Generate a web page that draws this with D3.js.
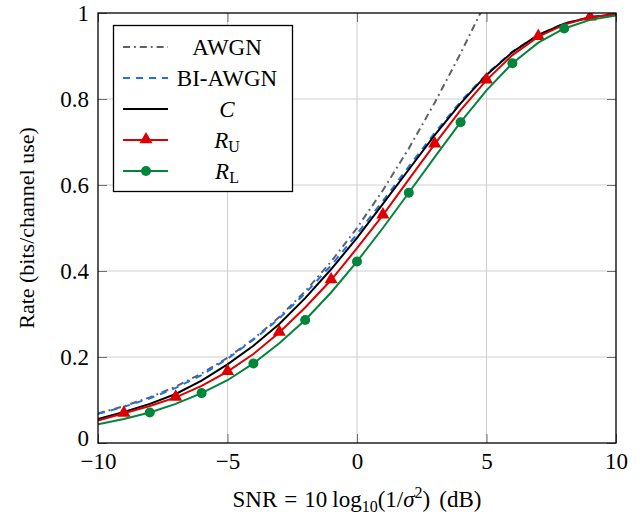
<!DOCTYPE html>
<html>
<head>
<meta charset="utf-8">
<script src="https://d3js.org/d3.v7.min.js"></script>
<style>
    body { margin: 0; background: #fff; }
    text { font-family: "Liberation Serif", "Times New Roman", serif; fill: #000; }
</style>
</head>
<body>
<div id="vis"></div>
<script>
// values, 1 dB steps
let snr = [-10, -9, -8, -7, -6, -5, -4, -3, -2, -1, 0, 1, 2, 3, 4, 5, 6, 7, 8, 9, 10];
let awgnSnr = [-10, -9, -8, -7, -6, -5, -4, -3, -2, -1, 0, 1, 2, 3, 4, 5];
let awgn = [0.0688, 0.0855, 0.1061, 0.1312, 0.1617, 0.1982, 0.2418, 0.2930, 0.3529, 0.4217,
            0.5, 0.5878, 0.6851, 0.7913, 0.9061, 1.0287];
let biawgn = [0.068, 0.084, 0.104, 0.128, 0.158, 0.196, 0.240, 0.290, 0.348, 0.413,
              0.486, 0.563, 0.643, 0.721, 0.794, 0.858, 0.910, 0.949, 0.976, 0.990, 0.997];
let capC = [0.056, 0.072, 0.091, 0.114, 0.145, 0.183, 0.226, 0.277, 0.337, 0.404,
            0.477, 0.556, 0.636, 0.716, 0.790, 0.856, 0.909, 0.949, 0.975, 0.990, 0.997];
let rU = [0.052, 0.069, 0.086, 0.106, 0.133, 0.166, 0.207, 0.257, 0.315, 0.379,
          0.453, 0.530, 0.613, 0.695, 0.774, 0.844, 0.902, 0.945, 0.973, 0.990, 0.997];
let rL = [0.0434, 0.056, 0.071, 0.091, 0.116, 0.146, 0.185, 0.232, 0.286, 0.350,
          0.422, 0.500, 0.582, 0.665, 0.746, 0.820, 0.883, 0.931, 0.964, 0.984, 0.994];
let xTicks = [-10, -5, 0, 5, 10];
let yTicks = [0, 0.2, 0.4, 0.6, 0.8, 1];
let legendLabels = ['AWGN', 'BI-AWGN', 'C', 'R_U', 'R_L'];

let W = 644, H = 521;
let margin = {top: 13, right: 28, bottom: 78, left: 98};
let width = W - margin.left - margin.right,
    height = H - margin.top - margin.bottom;

let colors = {awgn: '#5f5f68', bi: '#1a72e6', c: '#000', ru: '#dd0000', rl: '#00853a'};
let lw = 2;

let svg = d3.select('#vis').append('svg')
    .attr('width', W)
    .attr('height', H);

let xScale = d3.scaleLinear().domain([-10, 10]).range([margin.left, margin.left + width]);
let yScale = d3.scaleLinear().domain([0, 1]).range([margin.top + height, margin.top]);

// grid
let grid = svg.append('g').attr('stroke', '#d0d0d0').attr('stroke-width', 1.1);
grid.selectAll('line.gx')
    .data(xTicks.slice(1, -1))
    .enter().append('line')
    .attr('x1', d => xScale(d)).attr('x2', d => xScale(d))
    .attr('y1', yScale(0)).attr('y2', yScale(1));
grid.selectAll('line.gy')
    .data(yTicks.slice(1, -1))
    .enter().append('line')
    .attr('y1', d => yScale(d)).attr('y2', d => yScale(d))
    .attr('x1', xScale(-10)).attr('x2', xScale(10));

// axes, ticks pointing inward
let fmtY = d3.format('~g');
let axes = [
    [d3.axisBottom(xScale).tickValues(xTicks), 'translate(0,' + yScale(0) + ')', 10],
    [d3.axisTop(xScale).tickValues(xTicks).tickFormat(''), 'translate(0,' + yScale(1) + ')', 0],
    [d3.axisLeft(yScale).tickValues(yTicks).tickFormat(fmtY), 'translate(' + xScale(-10) + ',0)', 9],
    [d3.axisRight(yScale).tickValues(yTicks).tickFormat(''), 'translate(' + xScale(10) + ',0)', 0]
];
let axisGroups = axes.map(function(a) {
    let g = svg.append('g')
        .attr('transform', a[1])
        .call(a[0].tickSizeInner(-9).tickSizeOuter(0).tickPadding(a[2]));
    g.select('.domain').remove();
    g.selectAll('.tick line').attr('stroke', '#707070');
    g.selectAll('.tick text')
        .style('font-family', '"Liberation Serif", serif')
        .style('font-size', '23px');
    return g;
});
// lift the y "0" a little, like the reference
axisGroups[2].selectAll('.tick text').filter(d => d === 0).attr('dy', '0.1em');

// clip
svg.append('clipPath').attr('id', 'plotclip')
    .append('rect')
    .attr('x', margin.left).attr('y', margin.top)
    .attr('width', width).attr('height', height);

let plot = svg.append('g').attr('clip-path', 'url(#plotclip)');

let line = d3.line()
    .x(d => xScale(d[0]))
    .y(d => yScale(d[1]));

function pairs(xs, ys) {
    return xs.map((x, i) => [x, ys[i]]);
}

plot.append('path')
    .attr('d', line(pairs(awgnSnr, awgn)))
    .attr('fill', 'none')
    .attr('stroke', colors.awgn)
    .attr('stroke-width', lw)
    .attr('stroke-dasharray', '7,4,1.8,4');

plot.append('path')
    .attr('d', line(pairs(snr, biawgn)))
    .attr('fill', 'none')
    .attr('stroke', colors.bi)
    .attr('stroke-width', lw)
    .attr('stroke-dasharray', '7,6');

plot.append('path')
    .attr('d', line(pairs(snr, capC)))
    .attr('fill', 'none')
    .attr('stroke', colors.c)
    .attr('stroke-width', lw);

plot.append('path')
    .attr('d', line(pairs(snr, rU)))
    .attr('fill', 'none')
    .attr('stroke', colors.ru)
    .attr('stroke-width', lw);

let tri = d3.symbol().type(d3.symbolTriangle).size(75);

plot.selectAll('path.tri')
    .data(pairs(snr, rU).filter(d => Math.abs(d[0]) % 2 === 1))
    .enter().append('path')
    .attr('class', 'tri')
    .attr('d', tri)
    .attr('transform', d => 'translate(' + xScale(d[0]) + ',' + (yScale(d[1]) - 0.5) + ')')
    .attr('fill', colors.ru);

plot.append('path')
    .attr('d', line(pairs(snr, rL)))
    .attr('fill', 'none')
    .attr('stroke', colors.rl)
    .attr('stroke-width', lw);

plot.selectAll('circle.dot')
    .data(pairs(snr, rL).filter(d => d[0] % 2 === 0 && Math.abs(d[0]) < 10))
    .enter().append('circle')
    .attr('class', 'dot')
    .attr('cx', d => xScale(d[0]))
    .attr('cy', d => yScale(d[1]))
    .attr('r', 5)
    .attr('fill', colors.rl);

// frame
svg.append('rect')
    .attr('x', margin.left).attr('y', margin.top)
    .attr('width', width).attr('height', height)
    .attr('fill', 'none')
    .attr('stroke', '#000')
    .attr('stroke-width', 1.3);

// legend
let legend = svg.append('g');
legend.append('rect')
    .attr('x', 113.5).attr('y', 25.5)
    .attr('width', 179).attr('height', 166)
    .attr('fill', '#fff')
    .attr('stroke', '#000')
    .attr('stroke-width', 1.3);

let legendStyles = [
    {c: colors.awgn, dash: '7,4,1.8,4', m: null},
    {c: colors.bi, dash: '7,6', m: null},
    {c: colors.c, dash: null, m: null},
    {c: colors.ru, dash: null, m: 'tri'},
    {c: colors.rl, dash: null, m: 'dot'}
];

legendLabels.forEach(function(lab, i) {
    let yy = 47 + i * 31;
    let st = legendStyles[i];
    legend.append('line')
        .attr('x1', 123).attr('x2', 168)
        .attr('y1', yy).attr('y2', yy)
        .attr('stroke', st.c)
        .attr('stroke-width', lw)
        .attr('stroke-dasharray', st.dash);
    if (st.m === 'tri') {
        legend.append('path').attr('d', tri)
            .attr('transform', 'translate(146,' + (yy - 0.5) + ')')
            .attr('fill', st.c);
    }
    if (st.m === 'dot') {
        legend.append('circle').attr('cx', 146).attr('cy', yy).attr('r', 5).attr('fill', st.c);
    }
    let t = legend.append('text')
        .attr('x', 227).attr('y', yy + 7.5)
        .attr('text-anchor', 'middle')
        .style('font-size', '23px');
    if (lab.indexOf('_') > 0) {
        let parts = lab.split('_');
        t.append('tspan').style('font-style', 'italic').text(parts[0]);
        t.append('tspan').attr('dy', 4).style('font-size', '16px').text(parts[1]);
    } else if (lab === 'C') {
        t.style('font-style', 'italic').text(lab);
    } else {
        t.text(lab);
    }
});

// axis labels
svg.append('text')
    .attr('transform', 'translate(26,' + (margin.top + height / 2) + ') rotate(-90)')
    .attr('text-anchor', 'middle')
    .attr('dominant-baseline', 'central')
    .style('font-size', '22px')
    .text('Rate (bits/channel use)');

let xl = svg.append('text')
    .attr('x', margin.left + width / 2)
    .attr('y', 507)
    .attr('text-anchor', 'middle')
    .style('font-size', '23px');
xl.append('tspan').text('SNR');
xl.append('tspan').attr('dx', 7).text('=');
xl.append('tspan').attr('dx', 7).text('10');
xl.append('tspan').attr('dx', 5).text('log');
xl.append('tspan').attr('dy', 5).style('font-size', '16px').text('10');
xl.append('tspan').attr('dy', -5).text('(1/');
xl.append('tspan').style('font-style', 'italic').text('σ');
xl.append('tspan').attr('dy', -9).style('font-size', '16px').text('2');
xl.append('tspan').attr('dy', 9).text(')');
xl.append('tspan').attr('dx', 9).text('(dB)');
</script>
</body>
</html>
